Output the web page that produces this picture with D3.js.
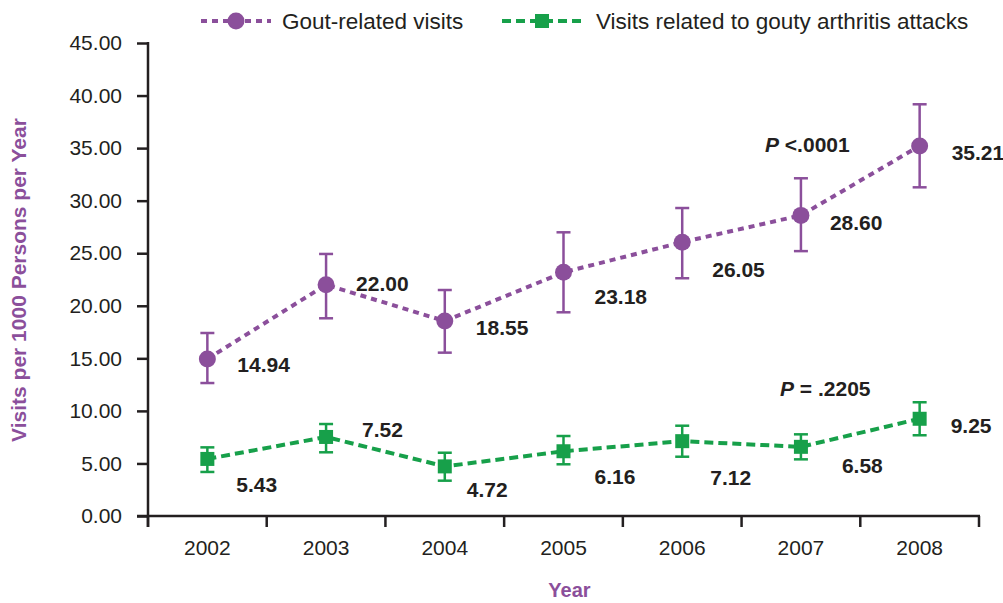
<!DOCTYPE html>
<html><head><meta charset="utf-8">
<script src="https://cdn.jsdelivr.net/npm/d3@7"></script>
<style>
body{margin:0;background:#fff;}
text{font-family:"Liberation Sans",Arial,sans-serif;}
</style></head>
<body><svg id="c" width="1003" height="603"></svg>
<script>
const years = ["2002","2003","2004","2005","2006","2007","2008"];
const goutVisits = [14.94, 22.00, 18.55, 23.18, 26.05, 28.60, 35.21];
const goutLow    = [12.65, 18.81, 15.54, 19.38, 22.62, 25.20, 31.27];
const goutHigh   = [17.41, 24.93, 21.50, 26.99, 29.30, 32.13, 39.17];
const attackVisits = [5.43, 7.52, 4.72, 6.16, 7.12, 6.58, 9.25];
const attackLow    = [4.19, 6.06, 3.36, 4.92, 5.64, 5.39, 7.68];
const attackHigh   = [6.53, 8.75, 6.02, 7.61, 8.59, 7.77, 10.82];
const yTicks = [0,5,10,15,20,25,30,35,40,45];
const seriesNames = ["Gout-related visits","Visits related to gouty arthritis attacks"];
// label offsets (layout only)
const goutLabelOff = [[30,6],[30,-1],[31,7],[31,24],[30,27],[29,7],[32,7]];
const attackLabelOff = [[29,26],[36,-7],[22,23],[31,25],[28,36],[41,19],[31,7]];

const ink = "#231f20", purple = "#8b4f9b", green = "#17a04a";
const svg = d3.select("#c");
const x = d3.scaleBand().domain(years).range([148, 979]).padding(0);
const y = d3.scaleLinear().domain([0,45]).range([516, 43]);
const cx = d => x(d) + x.bandwidth()/2;

// Y axis
const ya = svg.append("g").attr("transform","translate(148,0)")
  .call(d3.axisLeft(y).tickValues(yTicks).tickFormat(d3.format(".2f")).tickSize(11).tickPadding(15));
ya.select(".domain").remove();
ya.selectAll(".tick line").attr("stroke",ink).attr("stroke-width",2.5);
ya.selectAll(".tick text").attr("fill",ink).style("font-size","21px").style("font-family","Liberation Sans, Arial, sans-serif");
svg.append("line").attr("x1",148).attr("x2",148).attr("y1",y(45)-1).attr("y2",527).attr("stroke",ink).attr("stroke-width",2.5);

// X axis
const xa = svg.append("g").attr("transform","translate(0,516)")
  .call(d3.axisBottom(x).tickSize(0).tickPadding(24));
xa.select(".domain").remove();
xa.selectAll(".tick text").attr("fill",ink).style("font-size","21px").style("font-family","Liberation Sans, Arial, sans-serif");
svg.append("line").attr("x1",137).attr("x2",x.range()[1]+1).attr("y1",516).attr("y2",516).attr("stroke",ink).attr("stroke-width",2.5);
const bounds = years.map(d=>x(d)).concat([x.range()[1]]);
svg.selectAll(".xt").data(bounds).enter().append("line")
  .attr("x1",d=>d).attr("x2",d=>d).attr("y1",516).attr("y2",527).attr("stroke",ink).attr("stroke-width",2.5);

// Axis titles
svg.append("text").attr("transform","translate(26,280) rotate(-90)").attr("text-anchor","middle")
  .attr("fill",purple).style("font-weight","bold").style("font-size","21px").text("Visits per 1000 Persons per Year");
svg.append("text").attr("x",x.range()[0]+ (x.range()[1]-x.range()[0])/2 + 6).attr("y",597).attr("text-anchor","middle")
  .attr("fill",purple).style("font-weight","bold").style("font-size","20px").text("Year");

function drawSeries(vals, lo, hi, color, dash, marker, offs){
  const data = years.map((yr,i)=>({yr, v:vals[i], lo:lo[i], hi:hi[i], off:offs[i]}));
  const g = svg.append("g");
  g.append("path").datum(data).attr("fill","none").attr("stroke",color).attr("stroke-width",4)
    .attr("stroke-dasharray",dash)
    .attr("d", d3.line().x(d=>cx(d.yr)).y(d=>y(d.v)));
  const eb = g.selectAll(".eb").data(data).enter().append("g").attr("stroke",color).attr("stroke-width",2.5);
  eb.append("line").attr("x1",d=>cx(d.yr)).attr("x2",d=>cx(d.yr)).attr("y1",d=>y(d.lo)).attr("y2",d=>y(d.hi));
  eb.append("line").attr("x1",d=>cx(d.yr)-7).attr("x2",d=>cx(d.yr)+7).attr("y1",d=>y(d.lo)).attr("y2",d=>y(d.lo));
  eb.append("line").attr("x1",d=>cx(d.yr)-7).attr("x2",d=>cx(d.yr)+7).attr("y1",d=>y(d.hi)).attr("y2",d=>y(d.hi));
  if(marker==="circle"){
    g.selectAll(".m").data(data).enter().append("circle").attr("cx",d=>cx(d.yr)).attr("cy",d=>y(d.v)).attr("r",8.5).attr("fill",color);
  } else {
    g.selectAll(".m").data(data).enter().append("rect").attr("x",d=>cx(d.yr)-7).attr("y",d=>y(d.v)-7).attr("width",14).attr("height",14).attr("fill",color);
  }
  g.selectAll(".lab").data(data).enter().append("text")
    .attr("x",d=>cx(d.yr)+d.off[0]).attr("y",d=>y(d.v)+d.off[1])
    .attr("dy","0.35em").attr("fill",ink).style("font-weight","bold").style("font-size","21px")
    .text(d=>d3.format(".2f")(d.v));
}
drawSeries(goutVisits, goutLow, goutHigh, purple, "6,5", "circle", goutLabelOff);
drawSeries(attackVisits, attackLow, attackHigh, green, "9,5", "square", attackLabelOff);

// P values
function pText(xp, yp, rest){
  const t = svg.append("text").attr("x",xp).attr("y",yp).attr("dy","0.35em").attr("fill",ink)
    .style("font-weight","bold").style("font-size","21px");
  t.append("tspan").style("font-style","italic").text("P");
  t.append("tspan").text(rest);
}
pText(765, 145, " <.0001");
pText(780, 389, " = .2205");

// Legend
const lg = svg.append("g");
lg.append("line").attr("x1",201).attr("x2",271).attr("y1",21).attr("y2",21).attr("stroke",purple).attr("stroke-width",4).attr("stroke-dasharray","6,5");
lg.append("circle").attr("cx",236).attr("cy",21).attr("r",8.5).attr("fill",purple);
lg.append("text").attr("x",282).attr("y",21).attr("dy","0.35em").attr("fill",ink).style("font-size","22.5px").text(seriesNames[0]);
lg.append("line").attr("x1",502).attr("x2",581).attr("y1",21).attr("y2",21).attr("stroke",green).attr("stroke-width",4).attr("stroke-dasharray","9,5");
lg.append("rect").attr("x",535).attr("y",14).attr("width",14).attr("height",14).attr("fill",green);
lg.append("text").attr("x",596).attr("y",21).attr("dy","0.35em").attr("fill",ink).style("font-size","22.5px").text(seriesNames[1]);
</script></body></html>
